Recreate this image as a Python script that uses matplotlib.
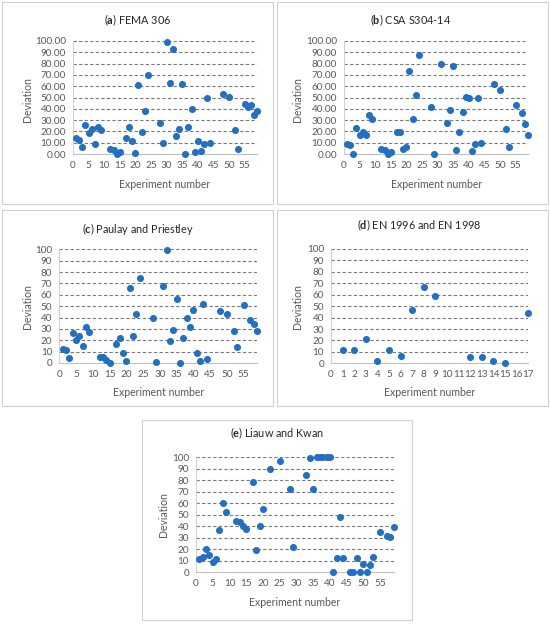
import matplotlib
matplotlib.use("Agg")
import matplotlib.pyplot as plt
from matplotlib.patches import Rectangle

plt.rcParams['font.family'] = ['Lato', 'DejaVu Sans']
plt.rcParams['mathtext.fontset'] = 'custom'
plt.rcParams['mathtext.rm'] = 'Lato'
plt.rcParams['mathtext.bf'] = 'Lato:bold'

# ---------------- data ----------------
a_x = [1,2,3,4,5,6,7,8,9,12,13,14,15,17,18,19,20,21,22,23,24,28,29,30,31,32,33,34,35,36,37,38,39,40,41,42,43,44,48,50,52,53,55,56,57,58,59]
a_y = [13.8,12.3,6.2,25.8,19.0,21.7,8.5,24.3,20.8,4.1,3.8,0.3,1.5,14.0,24.0,11.4,1.2,60.7,19.6,38.4,70.0,27.0,10.0,99.4,62.8,93.0,16.1,22.0,62.2,0.3,24.3,40.2,1.5,11.7,2.3,8.5,49.3,9.4,53.0,50.7,20.8,4.7,44.6,41.3,43.4,34.3,38.1]

b_x = [1,2,3,4,5,6,7,8,9,12,13,14,15,17,18,19,20,21,22,23,24,28,29,31,33,34,35,36,37,38,39,40,41,42,43,44,48,50,52,53,55,57,58,59]
b_y = [8.8,7.9,0.3,23.2,17.0,19.6,17.0,34.6,30.8,4.1,3.5,0.3,1.5,19.6,19.4,4.7,6.2,73.6,30.8,51.9,87.4,41.6,0.3,79.8,27.6,38.7,77.7,3.8,19.1,37.2,50.4,49.6,2.6,8.8,49.9,9.7,62.2,56.3,21.7,6.2,43.1,36.7,26.4,16.4]

c_x = [1,2,3,4,5,6,7,8,9,12,13,14,15,17,18,19,20,21,22,23,24,28,29,31,32,33,34,35,36,37,38,39,40,41,42,43,44,48,50,52,53,55,57,58,59]
c_y = [12.6,11.4,4.4,26.4,19.9,23.5,14.7,32.0,27.6,5.6,5.0,2.3,0.0,17.0,22.0,8.8,1.8,65.7,24.0,43.1,75.0,39.9,1.2,67.7,99.4,19.0,29.0,56.0,0.3,22.3,39.3,32.0,46.6,8.8,2.0,52.2,3.8,45.7,43.4,27.9,13.8,50.7,37.8,34.3,28.4]

d_x = [1,2,3,4,5,6,7,8,9,12,13,14,15,17]
d_y = [11.7,11.7,21.3,2.0,11.7,6.7,46.4,66.5,58.6,5.8,5.2,1.7,0.0,44.0]

e_x = [1,2,3,4,5,6,7,8,9,12,13,14,15,17,18,19,20,22,25,28,29,33,34,35,36,37,38,39,40,41,42,43,44,46,47,48,49,50,51,52,53,55,57,58,59]
e_y = [11.3,12.8,20.0,14.8,8.7,11.0,36.6,60.2,52.3,44.5,43.9,39.8,37.5,78.2,19.5,39.8,54.7,89.8,96.8,72.4,21.5,84.6,99.7,72.4,100,100,100,100,100,0,12.2,48.0,12.5,0,0,12.0,0,7.0,0,6.0,13.0,34.5,31.3,30.5,39.5]

titles = [r"($\mathbf{a}$) FEMA 306", r"($\mathbf{b}$) CSA S304-14",
          r"($\mathbf{c}$) Paulay and Priestley", r"($\mathbf{d}$) EN 1996 and EN 1998",
          r"($\mathbf{e}$) Liauw and Kwan"]
x_label = "Experiment number"
y_label = "Deviation"

# ---------------- layout ----------------
W, H = 550, 627
fig = plt.figure(figsize=(W/100, H/100), dpi=100)

def fx(px):
    return px / W

def fy(py):
    return 1 - py / H

def add_border(x0, y0, x1, y1):
    fig.patches.append(Rectangle((fx(x0), fy(y1)), fx(x1) - fx(x0), fy(y0) - fy(y1),
                                 transform=fig.transFigure, fill=False,
                                 edgecolor='#d0d0d0', lw=0.8))

BLUE = '#2470c0'
GRAY = '#595959'

def panel(xs, ys, box, plot, xmax, xticks, yfmt, title, tpos, ylpos, xlpos):
    add_border(*box)
    x0, x1, ytop, ybot = plot
    ax = fig.add_axes([fx(x0), fy(ybot), fx(x1) - fx(x0), fy(ytop) - fy(ybot)])
    ax.set_xlim(0, xmax)
    ax.set_ylim(0, 100)
    ax.set_yticks(range(0, 101, 10))
    ax.set_yticklabels([yfmt.format(v) for v in range(0, 101, 10)])
    ax.set_xticks(xticks)
    ax.set_xticklabels([str(t) for t in xticks])
    for s in ['top', 'right']:
        ax.spines[s].set_visible(False)
    ax.spines['bottom'].set_color('#bfbfbf')
    ax.spines['bottom'].set_linewidth(0.8)
    ax.spines['left'].set_color('#d0d0d0')
    ax.spines['left'].set_linewidth(0.7)
    ax.tick_params(length=0, labelsize=7.2, colors=GRAY)
    ax.tick_params(axis='y', pad=5)
    ax.tick_params(axis='x', pad=5)
    for v in range(10, 101, 10):
        ax.axhline(v, color='#7a7a7a', lw=0.8, ls=(0, (3, 2)), zorder=1)
    ax.scatter(xs, ys, s=26, color=BLUE, zorder=3, clip_on=False, linewidths=0)
    fig.text(fx(tpos[0]), fy(tpos[1]), title, ha='center', va='center',
             fontsize=7.8, color='#262626')
    fig.text(fx(ylpos[0]), fy(ylpos[1]), y_label, ha='center', va='center',
             rotation=90, fontsize=7.6, color=GRAY)
    fig.text(fx(xlpos[0]), fy(xlpos[1]), x_label, ha='center', va='center',
             fontsize=7.6, color=GRAY)
    return ax

ticks59 = list(range(0, 56, 5))

panel(a_x, a_y, (2, 2, 273, 204), (73, 257, 41, 154), 59, ticks59, "{:.2f}",
      titles[0], (138, 20.5), (28, 100), (165, 184))
panel(b_x, b_y, (277, 2, 548, 204), (344, 528, 41, 154), 59, ticks59, "{:.2f}",
      titles[1], (411, 20.5), (298, 100), (437, 184))
panel(c_x, c_y, (2, 210, 273, 406), (59.3, 257, 249.3, 363), 59, ticks59, "{:d}",
      titles[2], (138, 229), (27, 307), (159, 393))
panel(d_x, d_y, (277, 210, 548, 406), (331, 528.3, 249, 363.3), 17, list(range(0, 18)), "{:d}",
      titles[3], (419, 225), (297, 307), (430, 393))
panel(e_x, e_y, (142, 420, 412, 620), (196, 393.5, 457.3, 572), 59, ticks59, "{:d}",
      titles[4], (277, 433), (163, 515), (295, 602))

fig.savefig("out.png", dpi=100, facecolor='white')
